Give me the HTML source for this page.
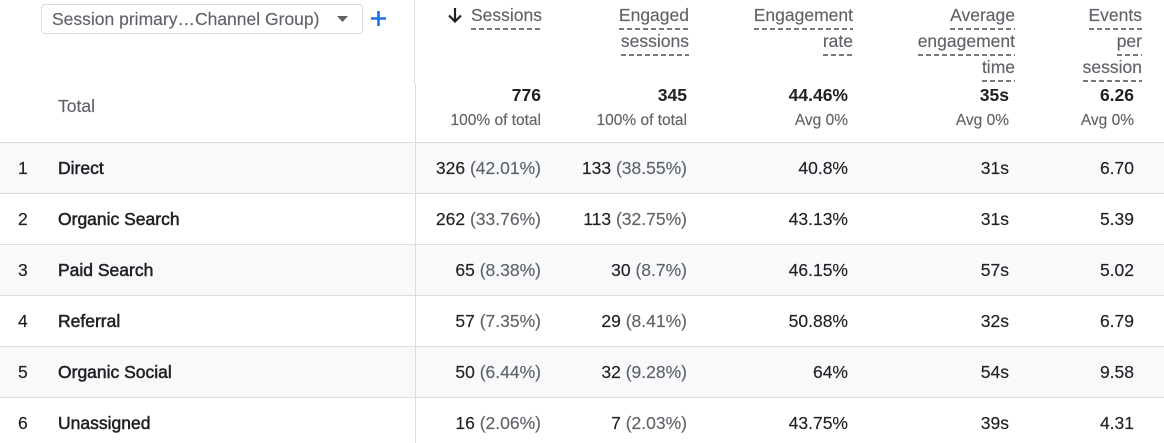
<!DOCTYPE html>
<html><head><meta charset="utf-8">
<style>
*{margin:0;padding:0;box-sizing:border-box}
html,body{width:1164px;height:443px;overflow:hidden;background:#fff}
body{position:relative;font-family:"Liberation Sans",Arial,sans-serif;color:#202124}
.a{position:absolute;white-space:nowrap;height:24px;line-height:24px;font-size:17.5px;-webkit-text-stroke:0.15px currentColor}
.r{text-align:right}
.g{color:#5f6368}
.row{position:absolute;left:0;width:1164px;height:51px;border-top:1px solid #dadce0}
.alt{background:#f8f9fa}
.lbl{-webkit-text-stroke:0.5px #202124;color:#202124}
.hd{color:#5f6368}
.u{padding-bottom:5px;background-image:repeating-linear-gradient(to right,#757a80 0 5px,transparent 5px 8px);background-size:100% 2px;background-repeat:no-repeat;background-position:0 100%}
.tv{font-weight:bold;font-size:17.5px;-webkit-text-stroke:0}
.sub{font-size:15.5px;color:#5f6368}
</style></head><body>

<!-- rows -->
<div class="row alt" style="top:142px"></div>
<div class="row" style="top:193px"></div>
<div class="row alt" style="top:244px"></div>
<div class="row" style="top:295px"></div>
<div class="row alt" style="top:346px"></div>
<div class="row" style="top:397px"></div>

<!-- vertical separators -->
<div style="position:absolute;left:414px;top:0;width:1px;height:84px;background:#dadce0"></div>
<div style="position:absolute;left:415px;top:84px;width:1px;height:359px;background:#dadce0"></div>

<!-- dropdown -->
<div style="position:absolute;left:41px;top:4px;width:322px;height:30px;border:1px solid #dadce0;border-radius:4px;background:#fff"></div>
<div class="a g" style="left:52px;top:7px">Session primary…Channel Group)</div>
<svg style="position:absolute;left:337px;top:16px" width="11" height="7"><polygon points="0,0 11,0 5.5,6" fill="#5f6368"/></svg>
<svg style="position:absolute;left:371px;top:11px" width="15" height="15"><path d="M7.5 0V15M0 7.5H15" stroke="#1a73e8" stroke-width="2.6"/></svg>

<!-- headers -->
<svg style="position:absolute;left:447px;top:7px" width="16" height="16"><path d="M8 1V14M2 8.5L8 14.5L14 8.5" stroke="#202124" stroke-width="2.2" fill="none"/></svg>
<div class="a r hd" style="right:622px;top:3px"><span class="u">Sessions</span></div>

<div class="a r hd" style="right:475px;top:3px"><span class="u">Engaged</span></div>
<div class="a r hd" style="right:475px;top:29px"><span class="u">sessions</span></div>

<div class="a r hd" style="right:311px;top:3px"><span class="u">Engagement</span></div>
<div class="a r hd" style="right:311px;top:29px"><span class="u">rate</span></div>

<div class="a r hd" style="right:149px;top:3px"><span class="u">Average</span></div>
<div class="a r hd" style="right:149px;top:29px"><span class="u">engagement</span></div>
<div class="a r hd" style="right:149px;top:55px"><span class="u">time</span></div>

<div class="a r hd" style="right:22px;top:3px"><span class="u">Events</span></div>
<div class="a r hd" style="right:22px;top:29px"><span class="u">per</span></div>
<div class="a r hd" style="right:22px;top:55px"><span class="u">session</span></div>

<!-- totals -->
<div class="a g" style="left:58px;top:94px">Total</div>
<div class="a r tv" style="right:623px;top:83px">776</div>
<div class="a r tv" style="right:477px;top:83px">345</div>
<div class="a r tv" style="right:316px;top:83px">44.46%</div>
<div class="a r tv" style="right:155px;top:83px">35s</div>
<div class="a r tv" style="right:30px;top:83px">6.26</div>
<div class="a r sub" style="right:623px;top:109px">100% of total</div>
<div class="a r sub" style="right:477px;top:109px">100% of total</div>
<div class="a r sub" style="right:316px;top:109px">Avg 0%</div>
<div class="a r sub" style="right:155px;top:109px">Avg 0%</div>
<div class="a r sub" style="right:30px;top:109px">Avg 0%</div>

<!-- row 1 -->
<div class="a" style="left:18px;top:156px">1</div>
<div class="a lbl" style="left:58px;top:156px">Direct</div>
<div class="a r" style="right:623px;top:156px">326 <span class="g">(42.01%)</span></div>
<div class="a r" style="right:477px;top:156px">133 <span class="g">(38.55%)</span></div>
<div class="a r" style="right:316px;top:156px">40.8%</div>
<div class="a r" style="right:155px;top:156px">31s</div>
<div class="a r" style="right:30px;top:156px">6.70</div>

<!-- row 2 -->
<div class="a" style="left:18px;top:207px">2</div>
<div class="a lbl" style="left:58px;top:207px">Organic Search</div>
<div class="a r" style="right:623px;top:207px">262 <span class="g">(33.76%)</span></div>
<div class="a r" style="right:477px;top:207px">113 <span class="g">(32.75%)</span></div>
<div class="a r" style="right:316px;top:207px">43.13%</div>
<div class="a r" style="right:155px;top:207px">31s</div>
<div class="a r" style="right:30px;top:207px">5.39</div>

<!-- row 3 -->
<div class="a" style="left:18px;top:258px">3</div>
<div class="a lbl" style="left:58px;top:258px">Paid Search</div>
<div class="a r" style="right:623px;top:258px">65 <span class="g">(8.38%)</span></div>
<div class="a r" style="right:477px;top:258px">30 <span class="g">(8.7%)</span></div>
<div class="a r" style="right:316px;top:258px">46.15%</div>
<div class="a r" style="right:155px;top:258px">57s</div>
<div class="a r" style="right:30px;top:258px">5.02</div>

<!-- row 4 -->
<div class="a" style="left:18px;top:309px">4</div>
<div class="a lbl" style="left:58px;top:309px">Referral</div>
<div class="a r" style="right:623px;top:309px">57 <span class="g">(7.35%)</span></div>
<div class="a r" style="right:477px;top:309px">29 <span class="g">(8.41%)</span></div>
<div class="a r" style="right:316px;top:309px">50.88%</div>
<div class="a r" style="right:155px;top:309px">32s</div>
<div class="a r" style="right:30px;top:309px">6.79</div>

<!-- row 5 -->
<div class="a" style="left:18px;top:360px">5</div>
<div class="a lbl" style="left:58px;top:360px">Organic Social</div>
<div class="a r" style="right:623px;top:360px">50 <span class="g">(6.44%)</span></div>
<div class="a r" style="right:477px;top:360px">32 <span class="g">(9.28%)</span></div>
<div class="a r" style="right:316px;top:360px">64%</div>
<div class="a r" style="right:155px;top:360px">54s</div>
<div class="a r" style="right:30px;top:360px">9.58</div>

<!-- row 6 -->
<div class="a" style="left:18px;top:411px">6</div>
<div class="a lbl" style="left:58px;top:411px">Unassigned</div>
<div class="a r" style="right:623px;top:411px">16 <span class="g">(2.06%)</span></div>
<div class="a r" style="right:477px;top:411px">7 <span class="g">(2.03%)</span></div>
<div class="a r" style="right:316px;top:411px">43.75%</div>
<div class="a r" style="right:155px;top:411px">39s</div>
<div class="a r" style="right:30px;top:411px">4.31</div>

</body></html>
